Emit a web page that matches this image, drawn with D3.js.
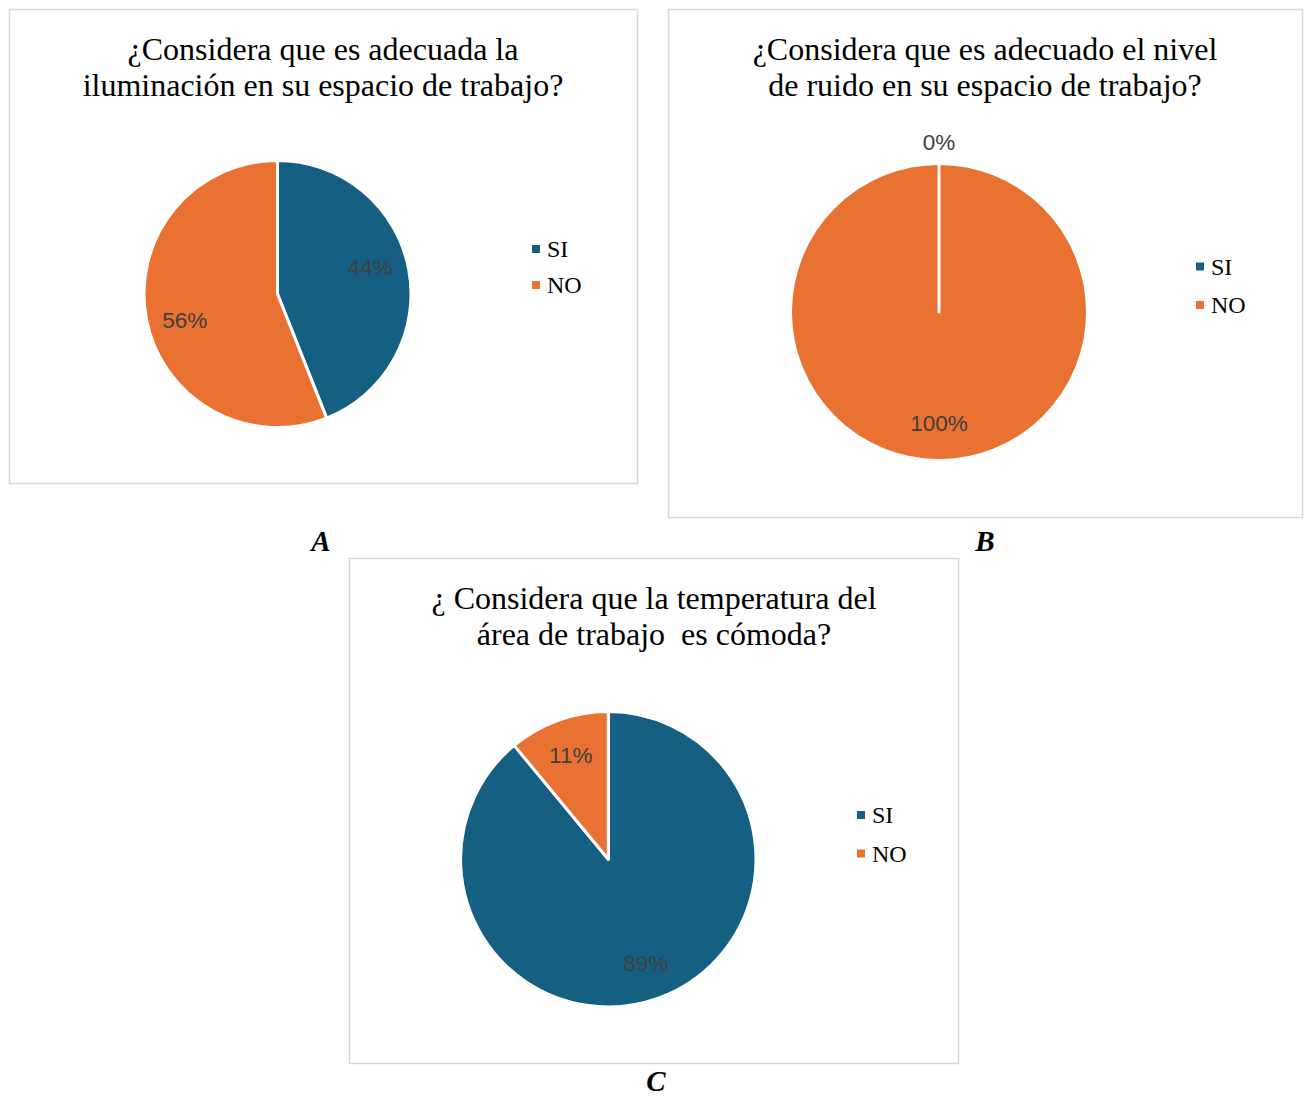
<!DOCTYPE html>
<html>
<head>
<meta charset="utf-8">
<script src="https://cdn.jsdelivr.net/npm/d3@7"></script>
<style>
  html, body { margin: 0; padding: 0; background: #fff; }
</style>
</head>
<body>
<svg id="chart" width="1307" height="1097"></svg>
<script>
// ---- data ----
const categories = ["SI", "NO"];
const seriesA = [44, 56];
const seriesB = [0, 100];
const seriesC = [89, 11];
const titlesA = ["¿Considera que es adecuada la", "iluminación en su espacio de trabajo?"];
const titlesB = ["¿Considera que es adecuado el nivel", "de ruido en su espacio de trabajo?"];
const titlesC = ["¿ Considera que la temperatura del", "área de trabajo  es cómoda?"];
const panelLetters = ["A", "B", "C"];

const colors = d3.scaleOrdinal().domain(categories).range(["#156082", "#E97132"]);

// ---- layout (positions/sizes) ----
const panels = [
  { values: seriesA, titles: titlesA, letter: panelLetters[0],
    box: [9, 9, 628, 474], cx: 277.5, cy: 294, r: 133.5, titleX: 323, titleY: 49,
    legendX: 536, legendY: 249, legendGap: 36, letterX: 321, letterY: 551, labelShift: -5 },
  { values: seriesB, titles: titlesB, letter: panelLetters[1],
    box: [668, 9, 634, 508], cx: 939, cy: 312, r: 148.5, titleX: 985, titleY: 49,
    legendX: 1200, legendY: 266.5, legendGap: 38.5, letterX: 985, letterY: 551, labelShift: 0 },
  { values: seriesC, titles: titlesC, letter: panelLetters[2],
    box: [349, 558, 609, 505], cx: 608.3, cy: 859.2, r: 147.7, titleX: 654, titleY: 598,
    legendX: 861, legendY: 815, legendGap: 38.5, letterX: 656, letterY: 1091, labelShift: 0 }
];

const svg = d3.select("#chart");

panels.forEach(p => {
  const g = svg.append("g");
  const [bx, by, bw, bh] = p.box;
  g.append("rect")
    .attr("x", bx + 0.5).attr("y", by + 0.5)
    .attr("width", bw).attr("height", bh)
    .attr("fill", "#fff").attr("stroke", "#d9d9d9").attr("stroke-width", 1.5);

  // title
  g.append("text")
    .attr("x", p.titleX).attr("y", p.titleY)
    .attr("text-anchor", "middle")
    .style("white-space", "pre")
    .attr("font-family", "'Liberation Serif', 'Times New Roman', serif")
    .attr("font-size", 32).attr("fill", "#000")
    .selectAll("tspan").data(p.titles).join("tspan")
    .attr("x", p.titleX).attr("dy", (d, i) => i === 0 ? "0.33em" : 36)
    .text(d => d);

  // pie
  const data = categories.map((c, i) => ({ cat: c, value: p.values[i] }));
  const pie = d3.pie().sort(null).value(d => d.value);
  const arcs = pie(data);
  const arc = d3.arc().innerRadius(0).outerRadius(p.r);
  const lr = p.r - 37;
  const shift = p.labelShift * Math.PI / 180;

  const pg = g.append("g").attr("transform", `translate(${p.cx},${p.cy})`);
  // draw non-zero first, then zero-valued slices (white separator line)
  const ordered = arcs.slice().sort((a, b) => (b.value > 0) - (a.value > 0));
  pg.selectAll("path").data(ordered).join("path")
    .attr("d", arc)
    .attr("fill", d => colors(d.data.cat))
    .attr("stroke", "#fff").attr("stroke-width", 3).attr("stroke-linejoin", "round");

  pg.selectAll("text.lbl").data(arcs).join("text")
    .attr("class", "lbl")
    .attr("transform", d => {
      if (d.value === 0) {
        const a = d.startAngle;
        const rr = p.r + 21;
        return `translate(${Math.sin(a) * rr},${-Math.cos(a) * rr})`;
      }
      const a = (d.startAngle + d.endAngle) / 2 + shift;
      return `translate(${Math.sin(a) * lr},${-Math.cos(a) * lr})`;
    })
    .attr("text-anchor", "middle").attr("dominant-baseline", "central")
    .attr("font-family", "'Liberation Sans', Arial, sans-serif")
    .attr("font-size", 22.5).attr("fill", "#404040")
    .text(d => d.value + "%");

  // legend
  const lg = g.append("g");
  const items = lg.selectAll("g").data(categories).join("g")
    .attr("transform", (d, i) => `translate(${p.legendX},${p.legendY + i * p.legendGap})`);
  items.append("rect").attr("x", -4).attr("y", -4).attr("width", 8).attr("height", 8)
    .attr("fill", d => colors(d));
  items.append("text").attr("x", 11).attr("y", 0)
    .attr("dominant-baseline", "central")
    .attr("font-family", "'Liberation Serif', 'Times New Roman', serif")
    .attr("font-size", 24).attr("fill", "#000")
    .text(d => d);

  // panel letter
  svg.append("text")
    .attr("x", p.letterX).attr("y", p.letterY)
    .attr("text-anchor", "middle")
    .attr("font-family", "'Liberation Serif', 'Times New Roman', serif")
    .attr("font-size", 29).attr("font-weight", "bold").attr("font-style", "italic")
    .text(p.letter);
});
</script>
</body>
</html>
